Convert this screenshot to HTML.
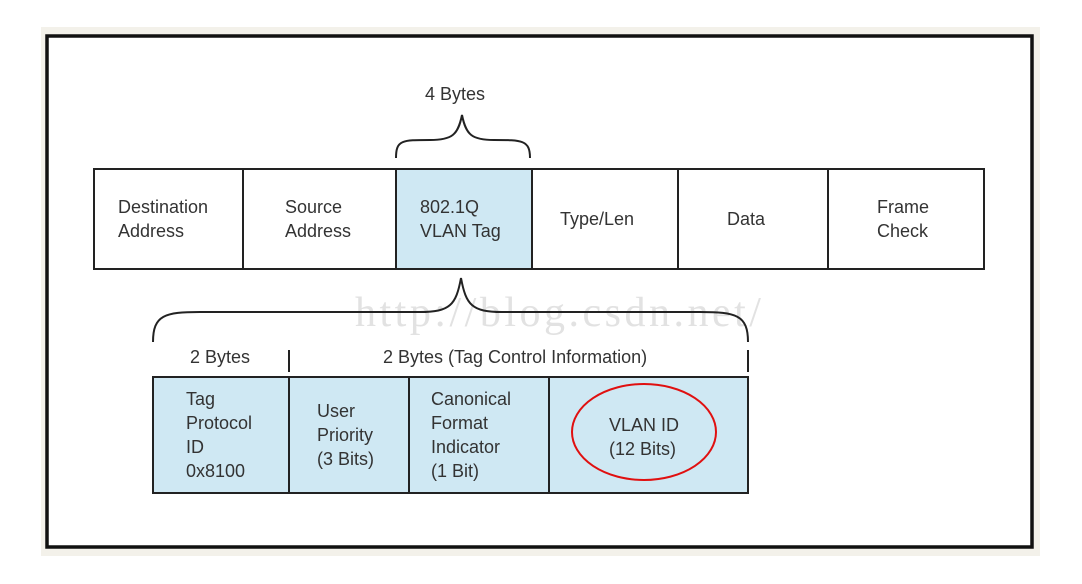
<!DOCTYPE html>
<html><head><meta charset="utf-8"><style>
html,body{margin:0;padding:0;background:#fff;}
svg{display:block;}
text{font-family:"Liberation Sans",sans-serif;fill:#333;font-size:18px;}
</style></head><body>
<svg width="1082" height="584" viewBox="0 0 1082 584" xmlns="http://www.w3.org/2000/svg">
<rect x="41" y="27" width="999" height="529" fill="#f3f1ea"/>
<rect x="47" y="36" width="985" height="511" fill="#fff" stroke="#111" stroke-width="3.5"/>
<!-- watermark -->
<text x="355" y="326" style="font-family:'Liberation Serif',serif;font-size:42px;fill:#e2e2e2;letter-spacing:3.5px">http://blog.csdn.net/</text>
<!-- top row -->
<rect x="396" y="169" width="136" height="100" fill="#cfe8f3"/>
<rect x="94" y="169" width="890" height="100" fill="none" stroke="#222" stroke-width="2"/>
<g stroke="#222" stroke-width="2">
<line x1="243" y1="169" x2="243" y2="269"/><line x1="396" y1="169" x2="396" y2="269"/>
<line x1="532" y1="169" x2="532" y2="269"/><line x1="678" y1="169" x2="678" y2="269"/>
<line x1="828" y1="169" x2="828" y2="269"/>
</g>
<text x="118" y="213">Destination</text><text x="118" y="237">Address</text>
<text x="285" y="213">Source</text><text x="285" y="237">Address</text>
<text x="420" y="213">802.1Q</text><text x="420" y="237">VLAN Tag</text>
<text x="560" y="225">Type/Len</text>
<text x="727" y="225">Data</text>
<text x="877" y="213">Frame</text><text x="877" y="237">Check</text>
<!-- top brace -->
<text x="425" y="100">4 Bytes</text>
<path d="M396,158 C396,140 402,140 430,140 C452,140 458,135 462,115 C466,135 472,140 494,140 C522,140 530,140 530,158" fill="none" stroke="#222" stroke-width="2"/>
<!-- bottom brace -->
<path d="M153,342 C153,315 165,312 200,312 L420,312 C450,312 456,305 461,278 C466,305 472,312 502,312 L700,312 C736,312 748,315 748,342" fill="none" stroke="#222" stroke-width="2"/>
<text x="190" y="363">2 Bytes</text>
<line x1="289" y1="350" x2="289" y2="372" stroke="#222" stroke-width="2"/>
<text x="383" y="363">2 Bytes (Tag Control Information)</text>
<line x1="748" y1="350" x2="748" y2="372" stroke="#222" stroke-width="2"/>
<!-- bottom row -->
<rect x="153" y="377" width="595" height="116" fill="#cfe8f3" stroke="#222" stroke-width="2"/>
<g stroke="#222" stroke-width="2">
<line x1="289" y1="377" x2="289" y2="493"/><line x1="409" y1="377" x2="409" y2="493"/>
<line x1="549" y1="377" x2="549" y2="493"/>
</g>
<text x="186" y="405">Tag</text><text x="186" y="429">Protocol</text><text x="186" y="453">ID</text><text x="186" y="477">0x8100</text>
<text x="317" y="417">User</text><text x="317" y="441">Priority</text><text x="317" y="465">(3 Bits)</text>
<text x="431" y="405">Canonical</text><text x="431" y="429">Format</text><text x="431" y="453">Indicator</text><text x="431" y="477">(1 Bit)</text>
<text x="609" y="431">VLAN ID</text><text x="609" y="455">(12 Bits)</text>
<ellipse cx="644" cy="432" rx="72" ry="48" fill="none" stroke="#e01010" stroke-width="2"/>
</svg>
</body></html>
